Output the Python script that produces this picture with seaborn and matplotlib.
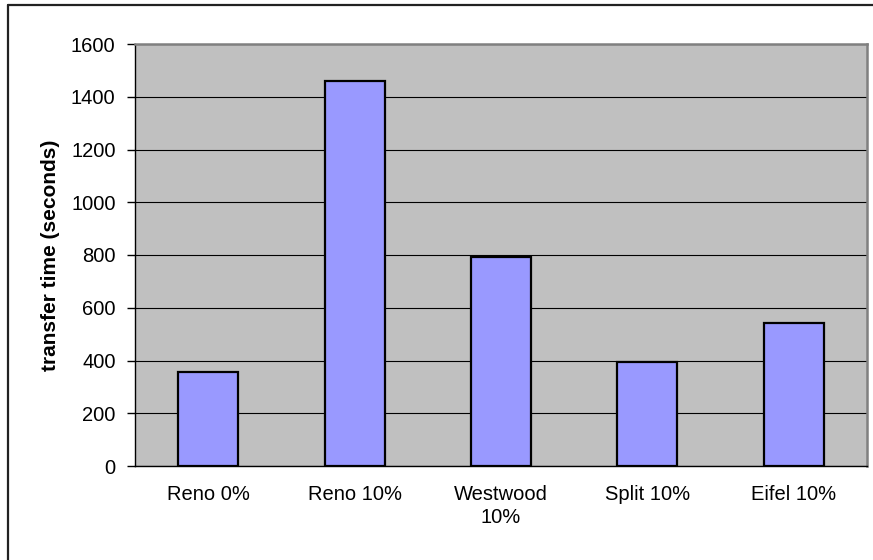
import matplotlib
matplotlib.use("Agg")
import matplotlib.pyplot as plt
from matplotlib.lines import Line2D
import seaborn as sns
import pandas as pd

categories = ["Reno 0%", "Reno 10%", "Westwood\n10%", "Split 10%", "Eifel 10%"]
transfer_time = [358, 1458, 794, 393, 544]
y_ticks = [0, 200, 400, 600, 800, 1000, 1200, 1400, 1600]

df = pd.DataFrame({"scheme": categories, "time": transfer_time})

sns.set_theme(style="white")
plt.rcParams['font.family'] = ['Liberation Sans', 'DejaVu Sans']

fig = plt.figure(figsize=(8.73, 5.6), dpi=100)
ax = fig.add_axes([135/873, 1-466/560, (867-135)/873, (466-44)/560])
ax.set_facecolor("#C0C0C0")

sns.barplot(data=df, x="scheme", y="time", color="#9999FF", width=0.41,
            edgecolor="black", linewidth=1.6, saturation=1, ax=ax, zorder=3)

ax.set_ylim(0, 1600)
ax.set_xlim(-0.5, len(categories) - 0.5)
ax.set_yticks(y_ticks)
ax.set_yticklabels([str(t) for t in y_ticks])
ax.yaxis.grid(True, color="black", linewidth=0.8, zorder=0)
ax.set_axisbelow(True)

ax.set_xticks(range(len(categories)))
ax.set_xticklabels(categories, linespacing=1.25)
ax.set_xticks([i - 0.5 for i in range(len(categories) + 1)], minor=True)
ax.tick_params(axis="x", which="major", length=0, pad=14, labelsize=14.5, colors="black")
ax.tick_params(axis="x", which="minor", length=6, width=1, color="black", direction="out")
ax.tick_params(axis="y", which="major", length=6, width=1, color="black", pad=8,
               labelsize=14.5, labelcolor="black", left=True)

ax.set_xlabel("")
ax.set_ylabel("transfer time (seconds)", fontsize=15, fontweight="bold", color="black")
ax.yaxis.set_label_coords(-0.102, 0.5)

for side in ["left", "bottom"]:
    ax.spines[side].set_color("black")
    ax.spines[side].set_linewidth(1.0)
for side in ["top", "right"]:
    ax.spines[side].set_visible(True)
    ax.spines[side].set_color("#808080")
    ax.spines[side].set_linewidth(1.8)

# outer chart border (left and top visible)
fig.add_artist(Line2D([8/873, 8/873], [0, 1-5/560], transform=fig.transFigure,
                      color="#222222", linewidth=1.6))
fig.add_artist(Line2D([8/873, 1], [1-5/560, 1-5/560], transform=fig.transFigure,
                      color="#222222", linewidth=1.6))

fig.savefig("out.png", dpi=100, facecolor="white")
